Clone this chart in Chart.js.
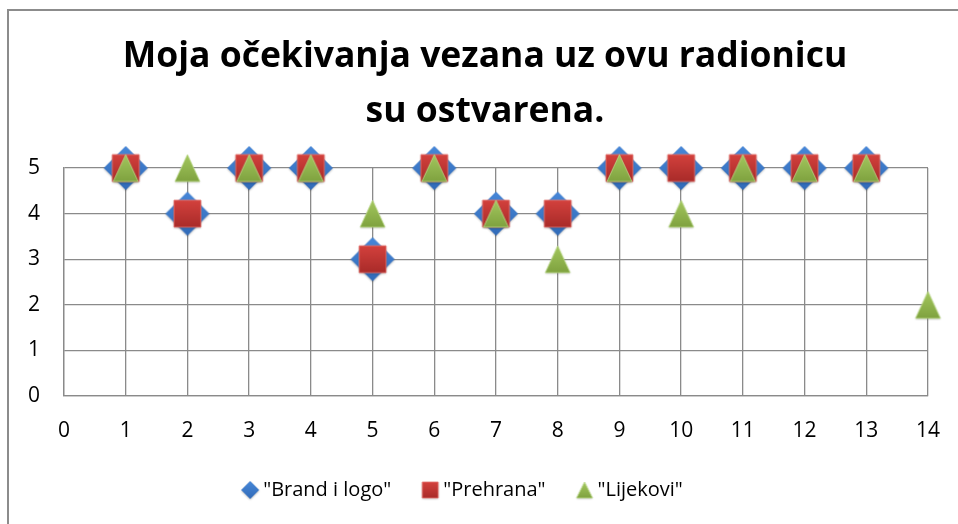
<!DOCTYPE html>
<html>
<head>
<meta charset="utf-8">
<script src="https://cdn.jsdelivr.net/npm/chart.js@4.4.1/dist/chart.umd.min.js"></script>
<style>
  html, body { margin: 0; padding: 0; background: #fff; }
  #wrap { width: 958px; height: 524px; }
</style>
</head>
<body>
<div id="wrap"><canvas id="chart" width="958" height="524"></canvas></div>
<script>
// podaci
const titleLines = ['Moja očekivanja vezana uz ovu radionicu', 'su ostvarena.'];
const seriesNames = ['"Brand i logo"', '"Prehrana"', '"Lijekovi"'];
const xBrand = [1, 2, 3, 4, 5, 6, 7, 8, 9, 10, 11, 12, 13];
const yBrand = [5, 4, 5, 5, 3, 5, 4, 4, 5, 5, 5, 5, 5];
const xPrehrana = [1, 2, 3, 4, 5, 6, 7, 8, 9, 10, 11, 12, 13];
const yPrehrana = [5, 4, 5, 5, 3, 5, 4, 4, 5, 5, 5, 5, 5];
const xLijekovi = [1, 2, 3, 4, 5, 6, 7, 8, 9, 10, 11, 12, 13, 14];
const yLijekovi = [5, 5, 5, 5, 4, 5, 4, 3, 5, 4, 5, 5, 5, 2];
const xTicks = [0, 14];
const yTicks = [0, 5];

const FONT = '"Open Sans", Lato, sans-serif';

// markeri kao mali canvasi (da budu centrirani kao u Excelu)
function makeMarker(kind, sw, sh) {
  const size = Math.ceil(Math.max(sw, sh) * 2 + 6);
  const c = document.createElement('canvas');
  c.width = size; c.height = size;
  const g = c.getContext('2d');
  const cx = size / 2, cy = size / 2;
  let grad;
  g.shadowColor = 'rgba(0,0,0,0.25)';
  g.shadowBlur = 2;
  g.shadowOffsetY = 1;
  g.beginPath();
  if (kind === 'diamond') {
    g.moveTo(cx, cy - sh); g.lineTo(cx + sw, cy); g.lineTo(cx, cy + sh); g.lineTo(cx - sw, cy);
    grad = g.createLinearGradient(0, cy - sh, 0, cy + sh);
    grad.addColorStop(0, '#4787d8'); grad.addColorStop(1, '#316bb8');
  } else if (kind === 'square') {
    g.rect(cx - sw, cy - sh, sw * 2, sh * 2);
    grad = g.createLinearGradient(0, cy - sh, 0, cy + sh);
    grad.addColorStop(0, '#d3413d'); grad.addColorStop(1, '#a92b29');
  } else {
    g.moveTo(cx, cy - sh); g.lineTo(cx + sw, cy + sh); g.lineTo(cx - sw, cy + sh);
    grad = g.createLinearGradient(0, cy - sh, 0, cy + sh);
    grad.addColorStop(0, '#a3c75e'); grad.addColorStop(1, '#7fa23f');
  }
  g.closePath();
  g.fillStyle = grad;
  g.fill();
  g.shadowColor = 'transparent';
  if (kind !== 'diamond') {
    g.strokeStyle = kind === 'square' ? 'rgba(230,120,115,0.8)' : 'rgba(190,220,140,0.8)';
    g.lineWidth = 1;
    g.stroke();
  }
  return c;
}

const markers = [makeMarker('diamond', 22, 22), makeMarker('square', 13.5, 13.5), makeMarker('triangle', 12.5, 13.5)];
const legendMarkers = [makeMarker('diamond', 9, 9), makeMarker('square', 8, 8), makeMarker('triangle', 8, 8)];

function toPoints(xs, ys) {
  return xs.map((x, i) => ({ x: x, y: ys[i] }));
}

// okvir grafikona + legenda malo ulijevo kao u originalu
const framePlugin = {
  id: 'frame',
  afterLayout(chart) {
    if (chart.legend) {
      chart.legend.left -= 20;
      chart.legend.right -= 20;
    }
  },
  beforeDraw(chart) {
    const ctx = chart.ctx;
    ctx.save();
    ctx.strokeStyle = '#8c8c8c';
    ctx.lineWidth = 2;
    ctx.strokeRect(8, 10, 1000, 1000);
    ctx.restore();
  }
};

new Chart(document.getElementById('chart'), {
  type: 'scatter',
  data: {
    datasets: [
      { label: seriesNames[0], data: toPoints(xBrand, yBrand), pointStyle: markers[0], clip: false, order: 3 },
      { label: seriesNames[1], data: toPoints(xPrehrana, yPrehrana), pointStyle: markers[1], clip: false, order: 2 },
      { label: seriesNames[2], data: toPoints(xLijekovi, yLijekovi), pointStyle: markers[2], clip: false, order: 1 }
    ]
  },
  options: {
    responsive: false,
    animation: false,
    layout: { padding: { left: 22, right: 10, top: 0, bottom: 14 } },
    plugins: {
      tooltip: { enabled: false },
      title: {
        display: true,
        text: titleLines,
        color: '#000',
        font: { family: FONT, size: 35.5, weight: 'bold', lineHeight: 1.55 },
        padding: { top: 29, bottom: 29 }
      },
      legend: {
        position: 'bottom',
        labels: {
          usePointStyle: true,
          pointStyleWidth: 6,
          color: '#000',
          font: { family: FONT, size: 20 },
          padding: 36,
          generateLabels(chart) {
            return chart.data.datasets.map((ds, i) => ({
              text: ds.label,
              pointStyle: legendMarkers[i],
              fillStyle: 'transparent',
              strokeStyle: 'transparent',
              lineWidth: 0,
              hidden: false,
              datasetIndex: i
            }));
          }
        }
      }
    },
    scales: {
      x: {
        type: 'linear',
        min: xTicks[0],
        max: xTicks[1],
        afterFit(scale) { scale.height = 48; scale.paddingRight = 30; },
        ticks: { stepSize: 1, color: '#000', font: { family: FONT, size: 21 }, padding: 22 },
        grid: { color: '#8a8a8a', lineWidth: 1.3, drawTicks: false },
        border: { color: '#8a8a8a', width: 1.3 }
      },
      y: {
        type: 'linear',
        min: yTicks[0],
        max: yTicks[1],
        afterFit(scale) { scale.width = 42; },
        ticks: { stepSize: 1, color: '#000', font: { family: FONT, size: 21 }, padding: 24 },
        grid: { color: '#8a8a8a', lineWidth: 1.3, drawTicks: false },
        border: { color: '#8a8a8a', width: 1.3 }
      }
    }
  },
  plugins: [framePlugin]
});
</script>
</body>
</html>
